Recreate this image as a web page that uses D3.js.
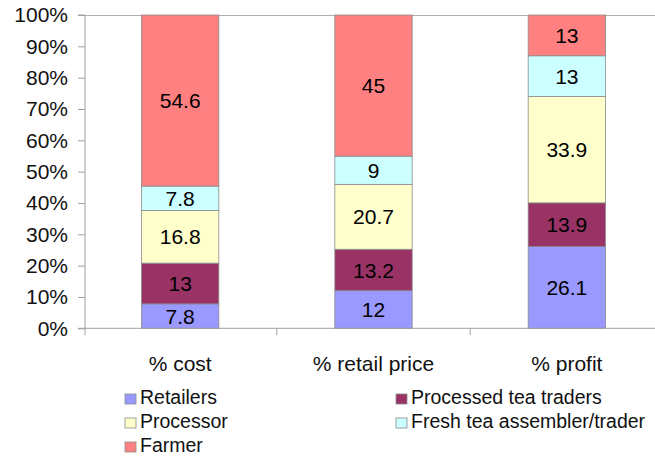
<!DOCTYPE html>
<html>
<head>
<meta charset="utf-8">
<script src="https://cdn.jsdelivr.net/npm/d3@7"></script>
<style>
  html, body { margin: 0; padding: 0; background: #fff; }
  svg { display: block; font-family: "Liberation Sans", Arial, sans-serif; }
</style>
</head>
<body>
<svg id="chart" width="655" height="457"></svg>
<script>
// Share of each value-chain actor in cost, retail price and profit
const categories = ["% cost", "% retail price", "% profit"];
const seriesNames = ["Retailers", "Processed tea traders", "Processor", "Fresh tea assembler/trader", "Farmer"];
const retailers = [7.8, 12, 26.1];
const processedTraders = [13, 13.2, 13.9];
const processor = [16.8, 20.7, 33.9];
const freshTrader = [7.8, 9, 13];
const farmer = [54.6, 45, 13];
const yTicks = [0, 0.1, 0.2, 0.3, 0.4, 0.5, 0.6, 0.7, 0.8, 0.9, 1];

const colors = ["#9999ff", "#993366", "#ffffcc", "#ccffff", "#ff8080"];
const seriesValues = [retailers, processedTraders, processor, freshTrader, farmer];

const rows = categories.map((c, i) => {
  const r = { category: c };
  seriesNames.forEach((s, k) => { r[s] = seriesValues[k][i]; });
  return r;
});

const svg = d3.select("#chart");
const plot = { left: 83.5, right: 663.5, top: 15, bottom: 328.3 };

const x = d3.scaleBand().domain(categories).range([plot.left, plot.right]).paddingInner(0.6).paddingOuter(0.3);
const xTickScale = d3.scaleBand().domain(categories).range([plot.left, plot.right]);
const y = d3.scaleLinear().domain([0, 1]).range([plot.bottom, plot.top]);

const stack = d3.stack().keys(seriesNames).offset(d3.stackOffsetExpand);
const layers = stack(rows);

// top border line of plot area
svg.append("line")
  .attr("x1", plot.left).attr("x2", 655)
  .attr("y1", y(1) + 0.5).attr("y2", y(1) + 0.5)
  .attr("stroke", "#b0b0b0").attr("stroke-width", 1);

// stacked bars
const g = svg.append("g");
layers.forEach((layer, k) => {
  g.selectAll(null).data(layer).enter().append("rect")
    .attr("x", d => x(d.data.category))
    .attr("width", x.bandwidth())
    .attr("y", d => y(d[1]))
    .attr("height", d => y(d[0]) - y(d[1]))
    .attr("fill", colors[k])
    .attr("stroke", "#8a8a8a")
    .attr("stroke-width", 0.8);
});

// value labels
layers.forEach((layer, k) => {
  g.selectAll(null).data(layer).enter().append("text")
    .attr("x", d => x(d.data.category) + x.bandwidth() / 2)
    .attr("y", d => (y(d[0]) + y(d[1])) / 2)
    .attr("dy", "0.36em")
    .attr("text-anchor", "middle")
    .attr("font-size", 21)
    .attr("fill", "#000")
    .text(d => d.data[layer.key]);
});

// y axis
const yAxis = d3.axisLeft(y).tickValues(yTicks).tickFormat(d3.format(".0%")).tickSize(7).tickPadding(10);
const ya = svg.append("g").attr("transform", `translate(${plot.left + 1.5},0)`).call(yAxis);
ya.select(".domain").attr("stroke", "#a0a0a0").attr("d", `M-7,${plot.top}H0V${plot.bottom}H-7`);
ya.selectAll(".tick line").attr("stroke", "#a0a0a0");
ya.selectAll(".tick text").attr("font-size", 21).attr("fill", "#111").attr("font-family", "Liberation Sans, Arial, sans-serif");

// x axis line with ticks between categories
svg.append("line")
  .attr("x1", plot.left + 1.5).attr("x2", 655)
  .attr("y1", plot.bottom).attr("y2", plot.bottom)
  .attr("stroke", "#a0a0a0");
const sepTicks = categories.map(c => xTickScale(c));
svg.selectAll(null).data(sepTicks.slice(1)).enter().append("line")
  .attr("x1", d => d).attr("x2", d => d)
  .attr("y1", plot.bottom).attr("y2", plot.bottom + 7)
  .attr("stroke", "#a0a0a0");
svg.append("line")
  .attr("x1", plot.left + 1.5).attr("x2", plot.left + 1.5)
  .attr("y1", plot.bottom).attr("y2", plot.bottom + 7)
  .attr("stroke", "#a0a0a0");

// category labels
svg.selectAll(null).data(categories).enter().append("text")
  .attr("x", d => x(d) + x.bandwidth() / 2)
  .attr("y", 371)
  .attr("text-anchor", "middle")
  .attr("font-size", 21)
  .attr("fill", "#111")
  .text(d => d);

// legend (two columns, three rows)
const legendPos = [
  { x: 125, y: 404 }, { x: 396, y: 404 },
  { x: 125, y: 428 }, { x: 396, y: 428 },
  { x: 125, y: 452 }
];
seriesNames.forEach((s, k) => {
  const p = legendPos[k];
  svg.append("rect")
    .attr("x", p.x).attr("y", p.y - 10)
    .attr("width", 11).attr("height", 10)
    .attr("fill", colors[k]).attr("stroke", "#8a8a8a").attr("stroke-width", 0.8);
  svg.append("text")
    .attr("x", p.x + 15).attr("y", p.y)
    .attr("font-size", 19.5)
    .attr("fill", "#111")
    .text(s);
});
</script>
</body>
</html>
